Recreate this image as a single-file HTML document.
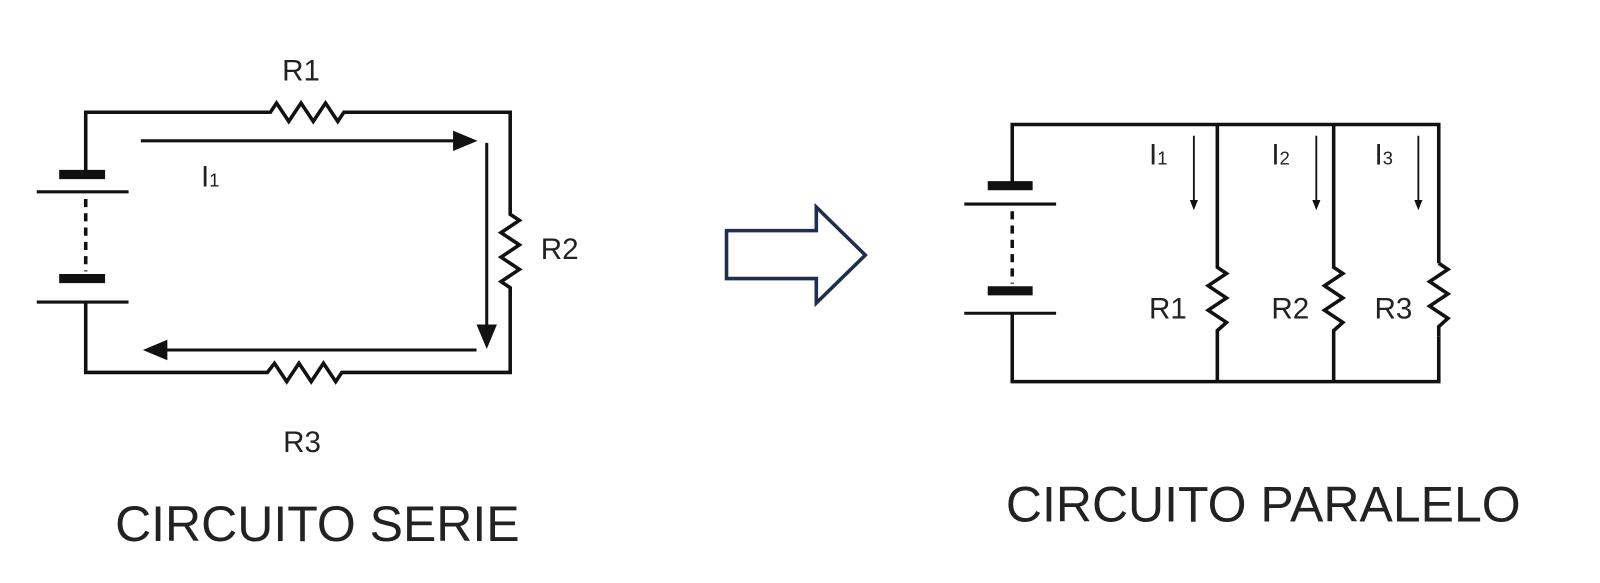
<!DOCTYPE html>
<html><head><meta charset="utf-8"><style>
html,body{margin:0;padding:0;background:#fff;}
svg{display:block;}
text{font-family:"Liberation Sans",sans-serif;fill:#222;}
</style></head><body>
<svg width="1600" height="583" viewBox="0 0 1600 583" xmlns="http://www.w3.org/2000/svg">
<g transform="scale(1.0204)">
<g stroke="#111" stroke-width="3.5" fill="none" stroke-linejoin="miter">
<polyline points="84,171 84,110 265,110 271,101 283,119 295,101 307,119 319,101 331,119 337,110 500,110 500,210 509,216 491,228 509,240 491,252 509,264 491,276 500,282 500,365 335,365 329,374 317,356 305,374 293,356 281,374 269,356 262,365 84,365 84,296"/>
<line x1="36" y1="188" x2="126" y2="188" stroke-width="3"/>
<line x1="36" y1="296" x2="126" y2="296" stroke-width="3"/>
<line x1="58" y1="171" x2="103" y2="171" stroke-width="9"/>
<line x1="58" y1="273" x2="103" y2="273" stroke-width="9"/>
<line x1="84" y1="195" x2="84" y2="266" stroke-dasharray="8,6" stroke-width="3.5"/>
<line x1="138" y1="138" x2="448" y2="138" stroke-width="3"/>
<line x1="477" y1="140" x2="477" y2="320" stroke-width="3"/>
<line x1="467" y1="343" x2="160" y2="343" stroke-width="3"/>
<polyline points="992,182 992,122 1410,122 1410,258"/>
<polyline points="992,307 992,374 1410,374 1410,330"/>
<line x1="945" y1="200" x2="1035" y2="200" stroke-width="3"/>
<line x1="945" y1="307" x2="1035" y2="307" stroke-width="3"/>
<line x1="968" y1="182" x2="1012" y2="182" stroke-width="9"/>
<line x1="968" y1="285" x2="1012" y2="285" stroke-width="9"/>
<line x1="992" y1="207" x2="992" y2="278" stroke-dasharray="8,6" stroke-width="3.5"/>
<polyline points="1193,122 1193,262 1202,268 1184,280 1202,292 1184,304 1202,316 1193,324 1193,374"/>
<polyline points="1307,122 1307,262 1316,268 1298,280 1316,292 1298,304 1316,316 1307,324 1307,374"/>
<polyline points="1410,258 1419,264 1401,276 1419,288 1401,300 1419,312 1410,320 1410,330"/>
<line x1="1170" y1="133" x2="1170" y2="200" stroke-width="1.8"/>
<line x1="1290" y1="133" x2="1290" y2="200" stroke-width="1.8"/>
<line x1="1390" y1="133" x2="1390" y2="200" stroke-width="1.8"/>
</g>
<g fill="#111">
<polygon points="468,138 444,128 444,148"/>
<polygon points="477,342 467,318 487,318"/>
<polygon points="140,343 164,333 164,353"/>
<polygon points="1170,206 1166,196 1174,196"/>
<polygon points="1290,206 1286,196 1294,196"/>
<polygon points="1390,206 1386,196 1394,196"/>
</g>
<polygon points="712,226 800,226 800,203 848,250 800,297 800,273 712,273" fill="#fff" stroke="#1f2d4e" stroke-width="3.5"/>
<g font-size="29">
<text x="295" y="79" text-anchor="middle">R1</text>
<text x="530" y="254">R2</text>
<text x="296" y="443" text-anchor="middle">R3</text>
<text x="197" y="183">I<tspan font-size="18">1</tspan></text>
<text x="1126" y="312">R1</text>
<text x="1246" y="312">R2</text>
<text x="1347" y="312">R3</text>
<text x="1126" y="161">I<tspan font-size="18">1</tspan></text>
<text x="1246" y="161">I<tspan font-size="18">2</tspan></text>
<text x="1347" y="161">I<tspan font-size="18">3</tspan></text>
</g>
<text x="311" y="530" text-anchor="middle" font-size="49">CIRCUITO SERIE</text>
<text x="1238" y="511" text-anchor="middle" font-size="49">CIRCUITO PARALELO</text>
</g>
</svg>
</body></html>
